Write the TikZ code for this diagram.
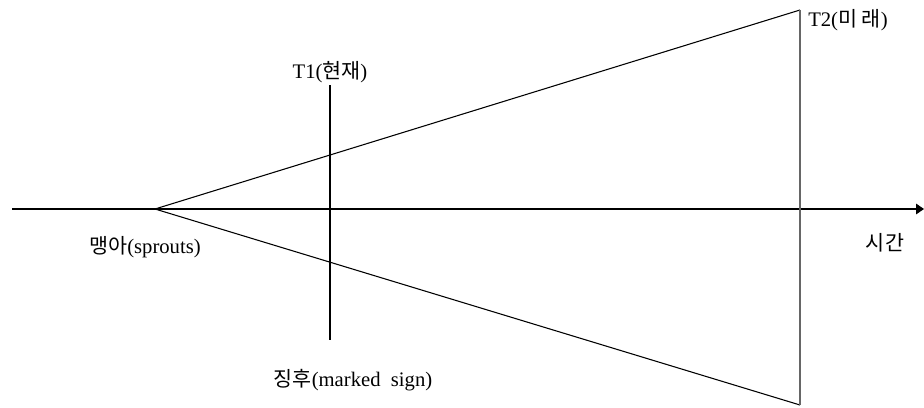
\documentclass[tikz,border=0pt]{standalone}
\usepackage{fontspec}
\setmainfont{Liberation Serif}
\newfontfamily\kr{Noto Sans CJK KR}
\usetikzlibrary{arrows.meta}
\begin{document}
\begin{tikzpicture}[x=0.75pt,y=-0.75pt,
  lbl/.style={inner sep=0pt,font=\fontsize{15.5}{18}\selectfont},
  ln/.style={draw=black,line width=0.8pt}]
\useasboundingbox (0,0) rectangle (924,407);
\coordinate (axL) at (12,209);
\coordinate (axR) at (924,209);
\coordinate (apex) at (155,209);
\coordinate (top) at (800,10);
\coordinate (bot) at (800,405);
\coordinate (t1a) at (330,85);
\coordinate (t1b) at (330,340);
\draw[ln,-{Triangle[length=6pt,width=8pt]}] (axL) -- (axR);
\draw[ln] (apex) -- (top);
\draw[ln] (apex) -- (bot);
\draw[draw=gray!80!black,line width=1.2pt] (top) -- (bot);
\draw[ln] (t1a) -- (t1b);
\node[lbl,anchor=west] (t2) at (808,20) {T2({\kr 미 래})};
\node[lbl] (t1) at (330,72) {T1({\kr 현재})};
\node[lbl] (sp) at (145,247) {{\kr 맹아}(sprouts)};
\node[lbl] (ms) at (353,380) {{\kr 징후}(marked\ \ sign)};
\node[lbl] (si) at (885,243) {{\kr 시간}};
\end{tikzpicture}
\end{document}
